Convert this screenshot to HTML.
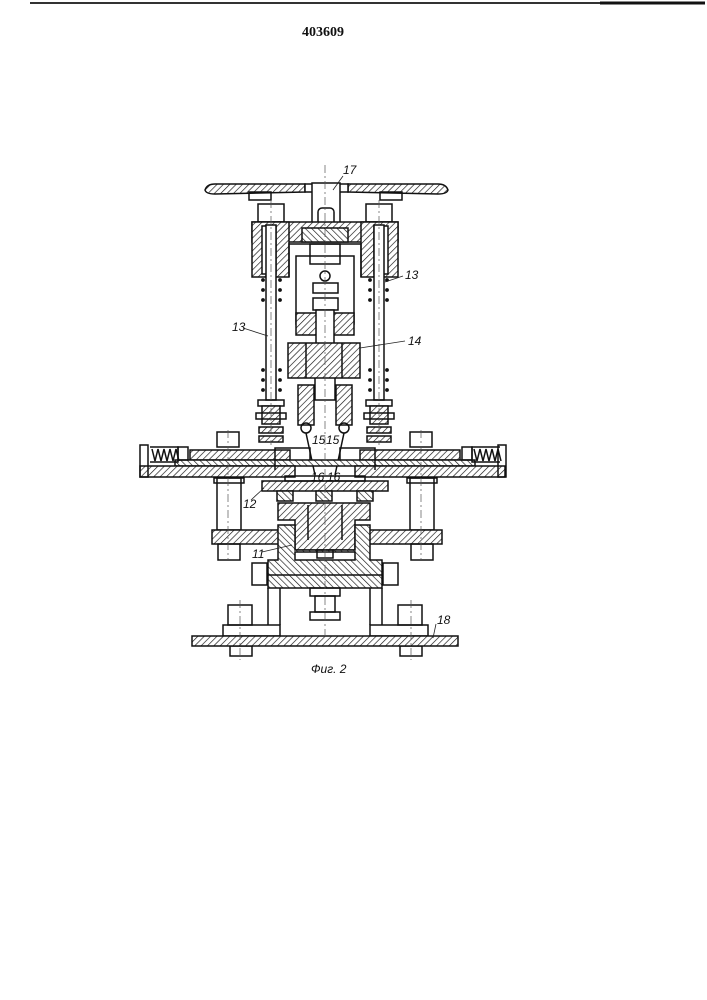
<!DOCTYPE html>
<html><head><meta charset="utf-8"><style>
html,body{margin:0;padding:0;background:#fff;}
svg{display:block}
text{font-family:"Liberation Serif",serif;fill:#111}
.l{font-family:"Liberation Sans",sans-serif;font-style:italic;font-size:12px}
</style></head><body>
<svg width="707" height="1000" viewBox="0 0 707 1000" xmlns="http://www.w3.org/2000/svg">
<defs>
<pattern id="h" width="4.5" height="4.5" patternUnits="userSpaceOnUse" patternTransform="rotate(45)">
<rect width="5" height="5" fill="#fff"/><line x1="0" y1="0" x2="0" y2="5" stroke="#111" stroke-width="1.3"/></pattern>
<pattern id="h2" width="4.5" height="4.5" patternUnits="userSpaceOnUse" patternTransform="rotate(-45)">
<rect width="5" height="5" fill="#fff"/><line x1="0" y1="0" x2="0" y2="5" stroke="#111" stroke-width="1.3"/></pattern>
</defs>
<line x1="30" y1="3" x2="705" y2="3" stroke="#333" stroke-width="2"/>
<line x1="600" y1="3" x2="705" y2="3" stroke="#111" stroke-width="3"/>
<text x="302" y="36" font-size="14" font-weight="bold">403609</text>

<g stroke="#111" stroke-width="1.5" fill="none">
<path d="M205 190 Q207 184 215 184 L305 184 L305 192 L215 194 Q206 194 205 190Z" fill="url(#h)"/>
<path d="M448 190 Q446 184 438 184 L348 184 L348 192 L438 194 Q447 194 448 190Z" fill="url(#h)"/>
<rect x="305" y="184" width="43" height="8" fill="#fff"/>
<rect x="312" y="183" width="28" height="45" fill="#fff"/>
<rect x="249" y="192" width="22" height="8"/><rect x="380" y="192" width="22" height="8"/>
<rect x="258" y="204" width="26" height="18"/><rect x="366" y="204" width="26" height="18"/>
<rect x="318" y="208" width="16" height="18" rx="4"/>
<rect x="252" y="222" width="146" height="20" fill="url(#h)"/>
<rect x="252" y="222" width="37" height="55" fill="url(#h)"/>
<rect x="361" y="222" width="37" height="55" fill="url(#h)"/>
<rect x="302" y="228" width="46" height="14" fill="url(#h2)"/>
<rect x="262" y="226" width="14" height="48" fill="#fff"/>
<rect x="374" y="226" width="14" height="48" fill="#fff"/>
<path d="M289 277 L289 244 L361 244 L361 277"/>
<rect x="296" y="256" width="58" height="68"/>
<rect x="310" y="244" width="30" height="20"/>
<circle cx="325" cy="276" r="5"/>
<rect x="313" y="283" width="25" height="10"/>
<rect x="313" y="298" width="25" height="12"/>
<rect x="296" y="313" width="58" height="22" fill="url(#h)"/>
<rect x="316" y="310" width="18" height="34" fill="#fff"/>
<rect x="288" y="343" width="72" height="35" fill="url(#h)"/>
<line x1="306" y1="343" x2="306" y2="378"/><line x1="342" y1="343" x2="342" y2="378"/>
<rect x="266" y="225" width="10" height="175" fill="#fff"/>
<rect x="374" y="225" width="10" height="175" fill="#fff"/>
<rect x="298" y="385" width="16" height="40" fill="url(#h)"/>
<rect x="336" y="385" width="16" height="40" fill="url(#h)"/>
<circle cx="306" cy="428" r="5"/><circle cx="344" cy="428" r="5"/>
<path d="M306 433 L315 475 M344 433 L335 475"/>
<path d="M315 378 L315 400 L335 400 L335 378" />
<rect x="258" y="400" width="26" height="6"/><rect x="366" y="400" width="26" height="6"/>
<rect x="262" y="406" width="18" height="18" fill="url(#h)"/><rect x="370" y="406" width="18" height="18" fill="url(#h)"/>
<rect x="256" y="413" width="30" height="6"/><rect x="364" y="413" width="30" height="6"/>
<rect x="259" y="427" width="24" height="6" fill="url(#h)"/><rect x="367" y="427" width="24" height="6" fill="url(#h)"/>
<rect x="259" y="436" width="24" height="6" fill="url(#h)"/><rect x="367" y="436" width="24" height="6" fill="url(#h)"/>
<rect x="217" y="432" width="22" height="15"/><rect x="410" y="432" width="22" height="15"/>
<rect x="190" y="450" width="100" height="10" fill="url(#h)"/>
<rect x="360" y="450" width="100" height="10" fill="url(#h)"/>
<rect x="175" y="460" width="300" height="6" fill="url(#h2)"/>
<rect x="140" y="466" width="155" height="11" fill="url(#h)"/>
<rect x="355" y="466" width="150" height="11" fill="url(#h)"/>
<rect x="140" y="445" width="8" height="32"/><rect x="498" y="445" width="8" height="32"/>
<path d="M150 447 L178 447 L178 462 L150 462"/><path d="M500 447 L472 447 L472 462 L500 462"/>
<path d="M152 449 l3 12 l3 -12 l3 12 l3 -12 l3 12 l3 -12 l3 12 l3 -12 l3 12"/>
<path d="M474 449 l3 12 l3 -12 l3 12 l3 -12 l3 12 l3 -12 l3 12 l3 -12 l3 12"/>
<rect x="178" y="447" width="10" height="13"/><rect x="462" y="447" width="10" height="13"/>
<path d="M275 470 L275 448 L310 448 L310 460 M375 470 L375 448 L340 448 L340 460"/>
<rect x="262" y="481" width="126" height="10" fill="url(#h)"/>
<rect x="285" y="476" width="80" height="5"/>
<rect x="277" y="491" width="16" height="10" fill="url(#h2)"/><rect x="316" y="491" width="16" height="10" fill="url(#h2)"/><rect x="357" y="491" width="16" height="10" fill="url(#h2)"/>
<rect x="217" y="478" width="24" height="52"/><rect x="410" y="478" width="24" height="52"/>
<rect x="214" y="478" width="30" height="5"/><rect x="407" y="478" width="30" height="5"/>
<rect x="212" y="530" width="230" height="14" fill="url(#h)"/>
<rect x="218" y="544" width="22" height="16"/><rect x="411" y="544" width="22" height="16"/>
<path d="M278 503 L370 503 L370 520 L355 520 L355 550 L295 550 L295 520 L278 520Z" fill="url(#h)"/>
<path d="M308 505 L308 540 M342 505 L342 540"/>
<path d="M278 525 L295 525 L295 550 L355 550 L355 525 L370 525 L370 560 L382 560 L382 588 L268 588 L268 560 L278 560Z" fill="url(#h2)"/>
<rect x="295" y="552" width="60" height="8" fill="#fff"/>
<rect x="317" y="550" width="16" height="8"/>
<line x1="268" y1="575" x2="382" y2="575"/>
<rect x="252" y="563" width="15" height="22"/><rect x="383" y="563" width="15" height="22"/>
<line x1="268" y1="588" x2="268" y2="625"/><line x1="280" y1="588" x2="280" y2="625"/>
<line x1="370" y1="588" x2="370" y2="625"/><line x1="382" y1="588" x2="382" y2="625"/>
<rect x="310" y="588" width="30" height="8"/><rect x="315" y="596" width="20" height="16"/><rect x="310" y="612" width="30" height="8"/>
<rect x="223" y="625" width="57" height="11"/><rect x="370" y="625" width="58" height="11"/>
<rect x="228" y="605" width="24" height="20"/><rect x="398" y="605" width="24" height="20"/>
<rect x="230" y="646" width="22" height="10"/><rect x="400" y="646" width="22" height="10"/>
<rect x="192" y="636" width="266" height="10" fill="url(#h)"/>
</g>
<g fill="#111">
<circle cx="263" cy="280" r="1.9"/><circle cx="263" cy="290" r="1.9"/><circle cx="263" cy="300" r="1.9"/><circle cx="263" cy="370" r="1.9"/><circle cx="263" cy="380" r="1.9"/><circle cx="263" cy="390" r="1.9"/>
<circle cx="280" cy="280" r="1.9"/><circle cx="280" cy="290" r="1.9"/><circle cx="280" cy="300" r="1.9"/><circle cx="280" cy="370" r="1.9"/><circle cx="280" cy="380" r="1.9"/><circle cx="280" cy="390" r="1.9"/>
<circle cx="370" cy="280" r="1.9"/><circle cx="370" cy="290" r="1.9"/><circle cx="370" cy="300" r="1.9"/><circle cx="370" cy="370" r="1.9"/><circle cx="370" cy="380" r="1.9"/><circle cx="370" cy="390" r="1.9"/>
<circle cx="387" cy="280" r="1.9"/><circle cx="387" cy="290" r="1.9"/><circle cx="387" cy="300" r="1.9"/><circle cx="387" cy="370" r="1.9"/><circle cx="387" cy="380" r="1.9"/><circle cx="387" cy="390" r="1.9"/>
</g>
<g stroke="#555" stroke-width="0.7" stroke-dasharray="8,3,2,3">
<line x1="325" y1="165" x2="325" y2="640"/>
<line x1="271" y1="200" x2="271" y2="445"/><line x1="379" y1="200" x2="379" y2="445"/>
<line x1="228" y1="430" x2="228" y2="560"/><line x1="421" y1="430" x2="421" y2="560"/>
<line x1="240" y1="600" x2="240" y2="660"/><line x1="411" y1="600" x2="411" y2="660"/>
</g>
<g stroke="#222" stroke-width="0.8">
<line x1="343" y1="176" x2="333" y2="190"/>
<line x1="403" y1="276" x2="385" y2="282"/>
<line x1="243" y1="328" x2="268" y2="336"/>
<line x1="405" y1="341" x2="360" y2="348"/>
<line x1="251" y1="500" x2="264" y2="488"/>
<line x1="262" y1="552" x2="292" y2="545"/>
<line x1="436" y1="624" x2="433" y2="638"/>
</g>
<text class="l" x="343" y="174">17</text>
<text class="l" x="405" y="279">13</text>
<text class="l" x="232" y="331">13</text>
<text class="l" x="408" y="345">14</text>
<text class="l" x="312" y="444" font-size="10">15</text>
<text class="l" x="326" y="444" font-size="10">15</text>
<text class="l" x="311" y="481" font-size="10">16</text>
<text class="l" x="327" y="481" font-size="10">16</text>
<text class="l" x="243" y="508">12</text>
<text class="l" x="252" y="558">11</text>
<text class="l" x="437" y="624">18</text>
<text class="l" x="311" y="673" font-size="11">Фиг. 2</text>
</svg>
</body></html>
